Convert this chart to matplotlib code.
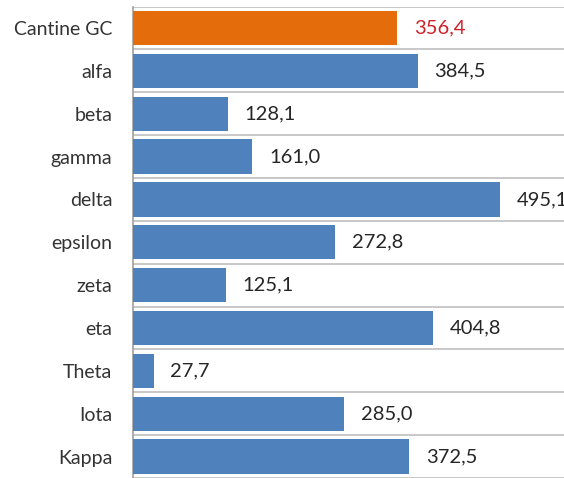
import numpy as np
import matplotlib.pyplot as plt

categories = ['Cantine GC', 'alfa', 'beta', 'gamma', 'delta', 'epsilon',
              'zeta', 'eta', 'Theta', 'Iota', 'Kappa']
values = [356.4, 384.5, 128.1, 161.0, 495.1, 272.8, 125.1, 404.8, 27.7, 285.0, 372.5]
labels = ['356,4', '384,5', '128,1', '161,0', '495,1', '272,8',
          '125,1', '404,8', '27,7', '285,0', '372,5']

plt.rcParams['font.family'] = ['Lato', 'DejaVu Sans']

fig = plt.figure(figsize=(5.64, 4.78), dpi=100)
ax = fig.add_axes([133 / 564, 0.0, 1 - 133 / 564, 1 - 6.5 / 478])

n = len(categories)
y = np.arange(n)
colors = ['#E46C0A'] + ['#4F81BD'] * (n - 1)
ax.barh(y, values, height=0.8, color=colors, zorder=3)

for yi, v, lab, i in zip(y, values, labels, range(n)):
    ax.annotate(lab, (v, yi), xytext=(12, 0), textcoords='offset points',
                va='center', ha='left', fontsize=14.5,
                color='#D0202A' if i == 0 else '#262626')

ax.set_ylim(n - 0.5, -0.5)
ax.set_xlim(0, 581.6)
ax.set_yticks(y)
ax.set_yticklabels(categories, fontsize=14, color='#333333')
ax.set_yticks(np.arange(n + 1) - 0.5, minor=True)
ax.tick_params(axis='y', which='both', length=0, pad=15)
ax.set_xticks([])
ax.grid(axis='y', which='minor', color='#BFBFBF', linewidth=1.2, zorder=1)

for s in ['top', 'right', 'bottom']:
    ax.spines[s].set_visible(False)
ax.spines['left'].set_color('#A0A0A0')
ax.spines['left'].set_linewidth(1.2)

fig.savefig('out.png', dpi=100)
